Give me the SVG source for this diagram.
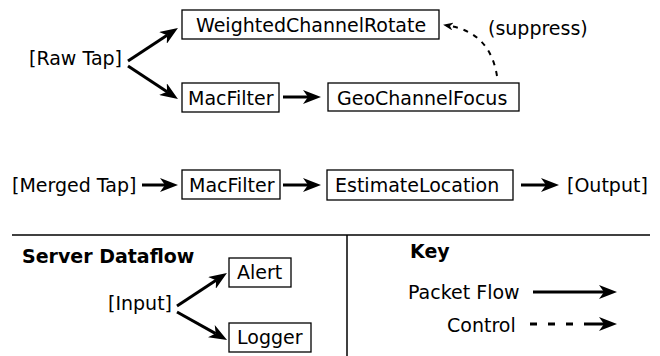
<svg xmlns="http://www.w3.org/2000/svg" width="660" height="356" viewBox="0 0 660 356">
<defs>
<style>
text{font-family:"DejaVu Sans","Liberation Sans",sans-serif;font-size:19px;fill:#000}
.b{font-weight:bold}
.box{fill:#fff;stroke:#000;stroke-width:1.3}
.flow{fill:none;stroke:#000;stroke-width:3}
.ctl{fill:none;stroke:#000;stroke-width:2;stroke-dasharray:5 6}
.kctl{fill:none;stroke:#000;stroke-width:3;stroke-dasharray:7 11 7 11 7 11 20}
.rule{stroke:#000;stroke-width:1.5}
</style>
<marker id="ah" markerUnits="userSpaceOnUse" markerWidth="18" markerHeight="14" refX="5" refY="7" orient="auto">
<path d="M0,0 L18,7 L0,14 L5,7 z" fill="#000"/>
</marker>
<marker id="ahs" markerUnits="userSpaceOnUse" markerWidth="10" markerHeight="8" refX="3" refY="4" orient="auto">
<path d="M0,0 L10,4 L0,8 L3,4 z" fill="#000"/>
</marker>
</defs>

<g id="connectors">
<line class="flow" x1="128" y1="61" x2="167.1" y2="35.2" marker-end="url(#ah)"/>
<line class="flow" x1="128" y1="66" x2="167.1" y2="91.8" marker-end="url(#ah)"/>
<line class="flow" x1="283" y1="97" x2="308" y2="97" marker-end="url(#ah)"/>
<path class="ctl" d="M497,76 Q490,33 450,26" marker-end="url(#ahs)"/>
<line class="flow" x1="142" y1="185" x2="165" y2="185" marker-end="url(#ah)"/>
<line class="flow" x1="283" y1="185" x2="308" y2="185" marker-end="url(#ah)"/>
<line class="flow" x1="521" y1="185" x2="546" y2="185" marker-end="url(#ah)"/>
<line class="flow" x1="177" y1="306" x2="216.1" y2="280.2" marker-end="url(#ah)"/>
<line class="flow" x1="177" y1="312" x2="215.7" y2="333.6" marker-end="url(#ah)"/>
</g>

<g id="raw-tap"><text x="29" y="65">[Raw Tap]</text></g>
<g id="weighted-channel-rotate"><rect class="box" x="182" y="10" width="257" height="29"/><text x="196" y="32">WeightedChannelRotate</text></g>
<g id="macfilter-1"><rect class="box" x="182" y="83" width="97" height="29"/><text x="188" y="105">MacFilter</text></g>
<g id="geo-channel-focus"><rect class="box" x="328" y="83" width="191" height="28"/><text x="337" y="105">GeoChannelFocus</text></g>
<g id="suppress-label"><text x="488" y="35">(suppress)</text></g>

<g id="merged-tap"><text x="12" y="192">[Merged Tap]</text></g>
<g id="macfilter-2"><rect class="box" x="182" y="170" width="98" height="29"/><text x="189" y="192">MacFilter</text></g>
<g id="estimate-location"><rect class="box" x="327" y="170" width="186" height="30"/><text x="335" y="192">EstimateLocation</text></g>
<g id="output"><text x="567" y="192">[Output]</text></g>

<g id="dividers">
<line class="rule" x1="12" y1="235" x2="650" y2="235"/>
<line class="rule" x1="347" y1="235" x2="347" y2="356"/>
</g>

<g id="server-dataflow"><text class="b" x="22" y="263">Server Dataflow</text></g>
<g id="input"><text x="108" y="310">[Input]</text></g>
<g id="alert"><rect class="box" x="229" y="258" width="62" height="29"/><text x="237" y="279">Alert</text></g>
<g id="logger"><rect class="box" x="229" y="323" width="82" height="29"/><text x="237" y="344">Logger</text></g>

<g id="key">
<text class="b" x="410" y="258">Key</text>
<text x="408" y="299">Packet Flow</text>
<line class="flow" x1="533" y1="292" x2="604" y2="292" marker-end="url(#ah)"/>
<text x="447" y="332">Control</text>
<line class="kctl" x1="530" y1="324" x2="604" y2="324" marker-end="url(#ah)"/>
</g>
</svg>
